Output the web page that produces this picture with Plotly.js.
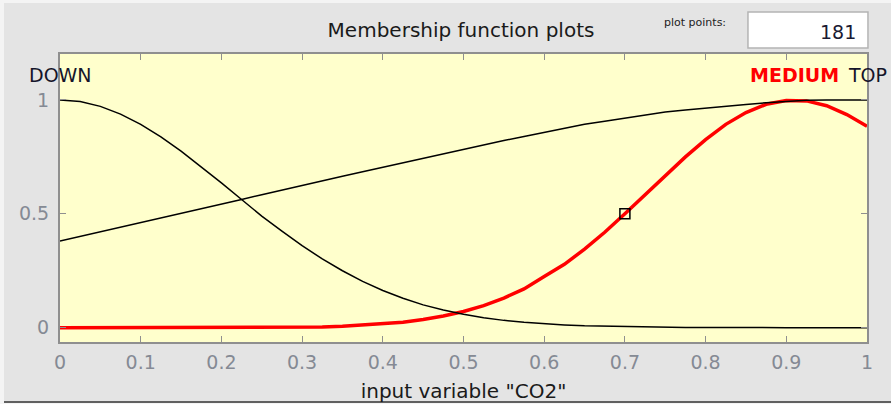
<!DOCTYPE html>
<html>
<head>
<meta charset="utf-8">
<script src="https://cdn.plot.ly/plotly-3.0.1.min.js"></script>
<style>
  html, body { margin: 0; padding: 0; background: #f4f4f4; width: 891px; height: 404px; overflow: hidden; }
  #frame { position: absolute; left: 4px; top: 3px; width: 887px; height: 398px; background: #e4e4e4; border-bottom: 2px solid #606060; }
  #chart { position: absolute; left: 0; top: 0; width: 891px; height: 404px; }
</style>
</head>
<body>
<div id="frame"></div>
<div id="chart"></div>
<script>
// input variable "CO2" sample positions
const xValues = [0, 0.025, 0.05, 0.075, 0.1, 0.125, 0.15, 0.175, 0.2, 0.225,
                 0.25, 0.275, 0.3, 0.325, 0.35, 0.375, 0.4, 0.425, 0.45, 0.475,
                 0.5, 0.525, 0.55, 0.575, 0.6, 0.625, 0.65, 0.675, 0.7, 0.725,
                 0.75, 0.775, 0.8, 0.825, 0.85, 0.875, 0.9, 0.925, 0.95, 0.975, 1];
// membership function DOWN
const downValues = [1, 0.993, 0.972, 0.938, 0.893, 0.838, 0.775, 0.707, 0.636, 0.563,
                    0.49, 0.424, 0.36, 0.302, 0.25, 0.203, 0.163, 0.129, 0.10, 0.078,
                    0.059, 0.044, 0.032, 0.024, 0.017, 0.012, 0.008, 0.006, 0.004, 0.003,
                    0.002, 0.001, 0.001, 0, 0, 0, 0, 0, 0, 0, 0];
// membership function MEDIUM (selected, red)
const mediumValues = [0, 0, 0, 0, 0, 0, 0, 0, 0, 0,
                      0, 0, 0, 0.003, 0.006, 0.011, 0.017, 0.024, 0.036, 0.051,
                      0.071, 0.097, 0.13, 0.17, 0.225, 0.278, 0.345, 0.419, 0.50, 0.583,
                      0.668, 0.75, 0.826, 0.893, 0.945, 0.981, 0.998, 0.996, 0.975, 0.936, 0.885];
// membership function TOP
const topValues = [0.38, 0.40, 0.42, 0.44, 0.46, 0.48, 0.50, 0.522, 0.543, 0.563,
                   0.584, 0.605, 0.625, 0.645, 0.665, 0.685, 0.705, 0.725, 0.745, 0.765,
                   0.785, 0.804, 0.822, 0.84, 0.858, 0.876, 0.893, 0.907, 0.921, 0.935,
                   0.947, 0.956, 0.965, 0.973, 0.98, 0.988, 0.995, 0.999, 1, 1, 1];
// selected point marker
const markerX = [0.7];
const markerY = [0.5];
// labels
const mfNames = ["DOWN", "MEDIUM", "TOP"];
const mfPeaks = [0, 0.91, 1.0];
const xTickVals = [0, 0.1, 0.2, 0.3, 0.4, 0.5, 0.6, 0.7, 0.8, 0.9, 1];
const xTickText = ["0", "0.1", "0.2", "0.3", "0.4", "0.5", "0.6", "0.7", "0.8", "0.9", "1"];
const yTickVals = [0, 0.5, 1];
const yTickText = ["0", "0.5", "1"];
const plotPoints = "181";

const FONT = "DejaVu Sans, Liberation Sans, Arial, sans-serif";
const tickGray = "#858a94";
const frameGray = "#8f8f8f";

const traces = [
  { x: xValues, y: mediumValues, type: "scatter", mode: "lines",
    line: { color: "#ff0000", width: 3.5 }, hoverinfo: "skip" },
  { x: xValues, y: downValues, type: "scatter", mode: "lines",
    line: { color: "#000000", width: 1.5 }, hoverinfo: "skip" },
  { x: xValues, y: topValues, type: "scatter", mode: "lines",
    line: { color: "#000000", width: 1.5 }, hoverinfo: "skip" },
  { x: markerX, y: markerY, type: "scatter", mode: "markers",
    marker: { symbol: "square-open", size: 10, color: "#000000", line: { width: 1.5, color: "#000000" } },
    hoverinfo: "skip" }
];

const labelColors = ["#15152a", "#ff0000", "#15152a"];
const labelWeights = ["normal", "bold", "normal"];
const annotations = mfNames.map((n, i) => ({
  x: mfPeaks[i], y: 1.11, xref: "x", yref: "y", text: n, showarrow: false,
  xanchor: "center", yanchor: "middle",
  font: { family: FONT, size: 19, color: labelColors[i], weight: labelWeights[i] }
}));
annotations.push({
  x: 0.787, y: 1.111, xref: "paper", yref: "paper", text: "plot points:", showarrow: false,
  xanchor: "center", yanchor: "middle", font: { family: FONT, size: 11, color: "#222222" }
});
annotations.push({
  x: 0.9888, y: 1.0764, xref: "paper", yref: "paper", text: plotPoints, showarrow: false,
  xanchor: "right", yanchor: "middle", font: { family: FONT, size: 19, color: "#1a1a33" }
});

const layout = {
  width: 891, height: 404,
  margin: { l: 60, r: 24, t: 54, b: 62, pad: 0 },
  paper_bgcolor: "rgba(0,0,0,0)",
  plot_bgcolor: "#ffffcc",
  showlegend: false,
  title: { text: "Membership function plots", x: 461 / 891, xref: "container", xanchor: "center",
           y: 1 - 30 / 404, yref: "container", yanchor: "middle",
           font: { family: FONT, size: 20, color: "#1a1a1a" } },
  xaxis: {
    range: [0, 1], tickvals: xTickVals, ticktext: xTickText,
    ticks: "inside", ticklen: 6, tickwidth: 1, tickcolor: frameGray,
    showline: true, linecolor: frameGray, linewidth: 2, mirror: "ticks",
    showgrid: false, zeroline: false, ticklabelstandoff: 2,
    tickfont: { family: FONT, size: 19, color: tickGray },
    title: { text: 'input variable "CO2"', standoff: 12,
             font: { family: FONT, size: 20, color: "#1a1a1a" } }
  },
  yaxis: {
    range: [-0.063, 1.202], tickvals: yTickVals, ticktext: yTickText,
    ticks: "inside", ticklen: 6, tickwidth: 1, tickcolor: frameGray,
    showline: true, linecolor: frameGray, linewidth: 2, mirror: "ticks",
    showgrid: false, zeroline: false, ticklabelstandoff: 5,
    tickfont: { family: FONT, size: 19, color: tickGray }
  },
  shapes: [
    { type: "rect", xref: "paper", yref: "paper", x0: 0.8525, x1: 1.0012, y0: 1.0208, y1: 1.1458,
      fillcolor: "#ffffff", line: { color: "#b4b4b4", width: 1.5 } }
  ],
  annotations: annotations
};

Plotly.newPlot("chart", traces, layout, { displayModeBar: false, staticPlot: true });
</script>
</body>
</html>
